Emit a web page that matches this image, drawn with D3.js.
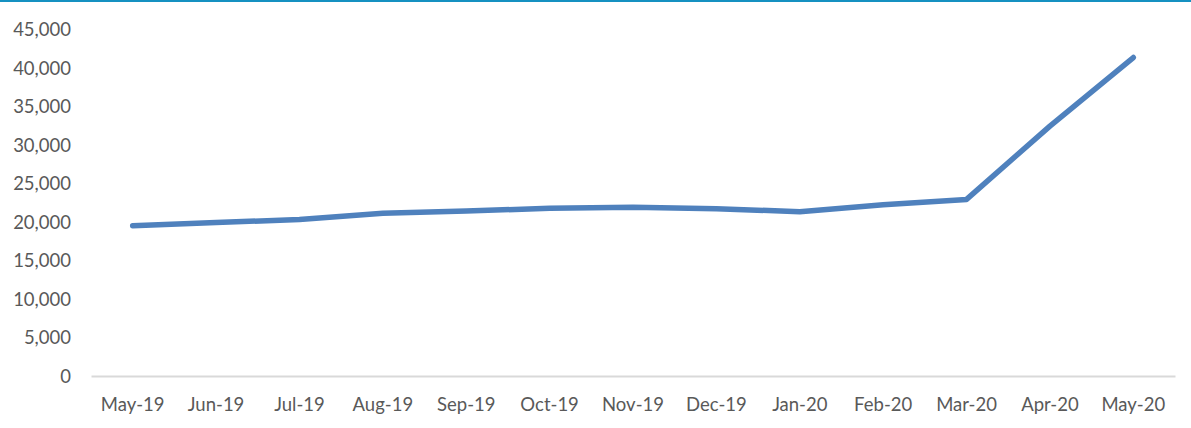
<!DOCTYPE html>
<html><head><meta charset="utf-8">
<script src="https://cdn.jsdelivr.net/npm/d3@7"></script>
<style>
html,body{margin:0;padding:0;background:#fff;}
svg{display:block;}
text{font-family:Lato,"Open Sans",sans-serif;fill:#595959;}
</style></head>
<body>
<svg id="chart" width="1191" height="428"></svg>
<script>
const categories = ["May-19","Jun-19","Jul-19","Aug-19","Sep-19","Oct-19","Nov-19","Dec-19","Jan-20","Feb-20","Mar-20","Apr-20","May-20"];
const values = [19500, 19900, 20300, 21100, 21400, 21750, 21900, 21700, 21300, 22200, 22900, 32400, 41300];
const yTicks = [0,5000,10000,15000,20000,25000,30000,35000,40000,45000];

const svg = d3.select("#chart");
const W = 1191, H = 428;
svg.append("rect").attr("x",0).attr("y",0).attr("width",W).attr("height",2).attr("fill","#1591c1");

const x = d3.scaleBand().domain(categories).range([91,1175]);
const y = d3.scaleLinear().domain([0,45000]).range([376,29]);

// y axis labels
const yAxis = d3.axisLeft(y).tickValues(yTicks).tickSize(0).tickPadding(0).tickFormat(d3.format(","));
const gy = svg.append("g").attr("transform","translate(71,0)").call(yAxis);
gy.select(".domain").remove();
gy.selectAll("text").attr("font-size",18.5).attr("font-family","Lato, 'Open Sans', sans-serif").attr("fill","#595959").attr("dy","0.35em");

// x axis
const xAxis = d3.axisBottom(x).tickSize(0).tickPadding(0);
const gx = svg.append("g").attr("transform","translate(0,376)").call(xAxis);
gx.select(".domain").attr("stroke","#d9d9d9").attr("stroke-width",2);
gx.selectAll("text").attr("font-size",18.5).attr("font-family","Lato, 'Open Sans', sans-serif").attr("fill","#595959").attr("y",29).attr("dy","0.35em");

const line = d3.line().x((d,i)=>x(categories[i])+x.bandwidth()/2).y(d=>y(d));
svg.append("path").datum(values).attr("d",line).attr("fill","none")
  .attr("stroke","#4f81bd").attr("stroke-width",5.5).attr("stroke-linecap","round").attr("stroke-linejoin","round");
</script>
</body></html>
